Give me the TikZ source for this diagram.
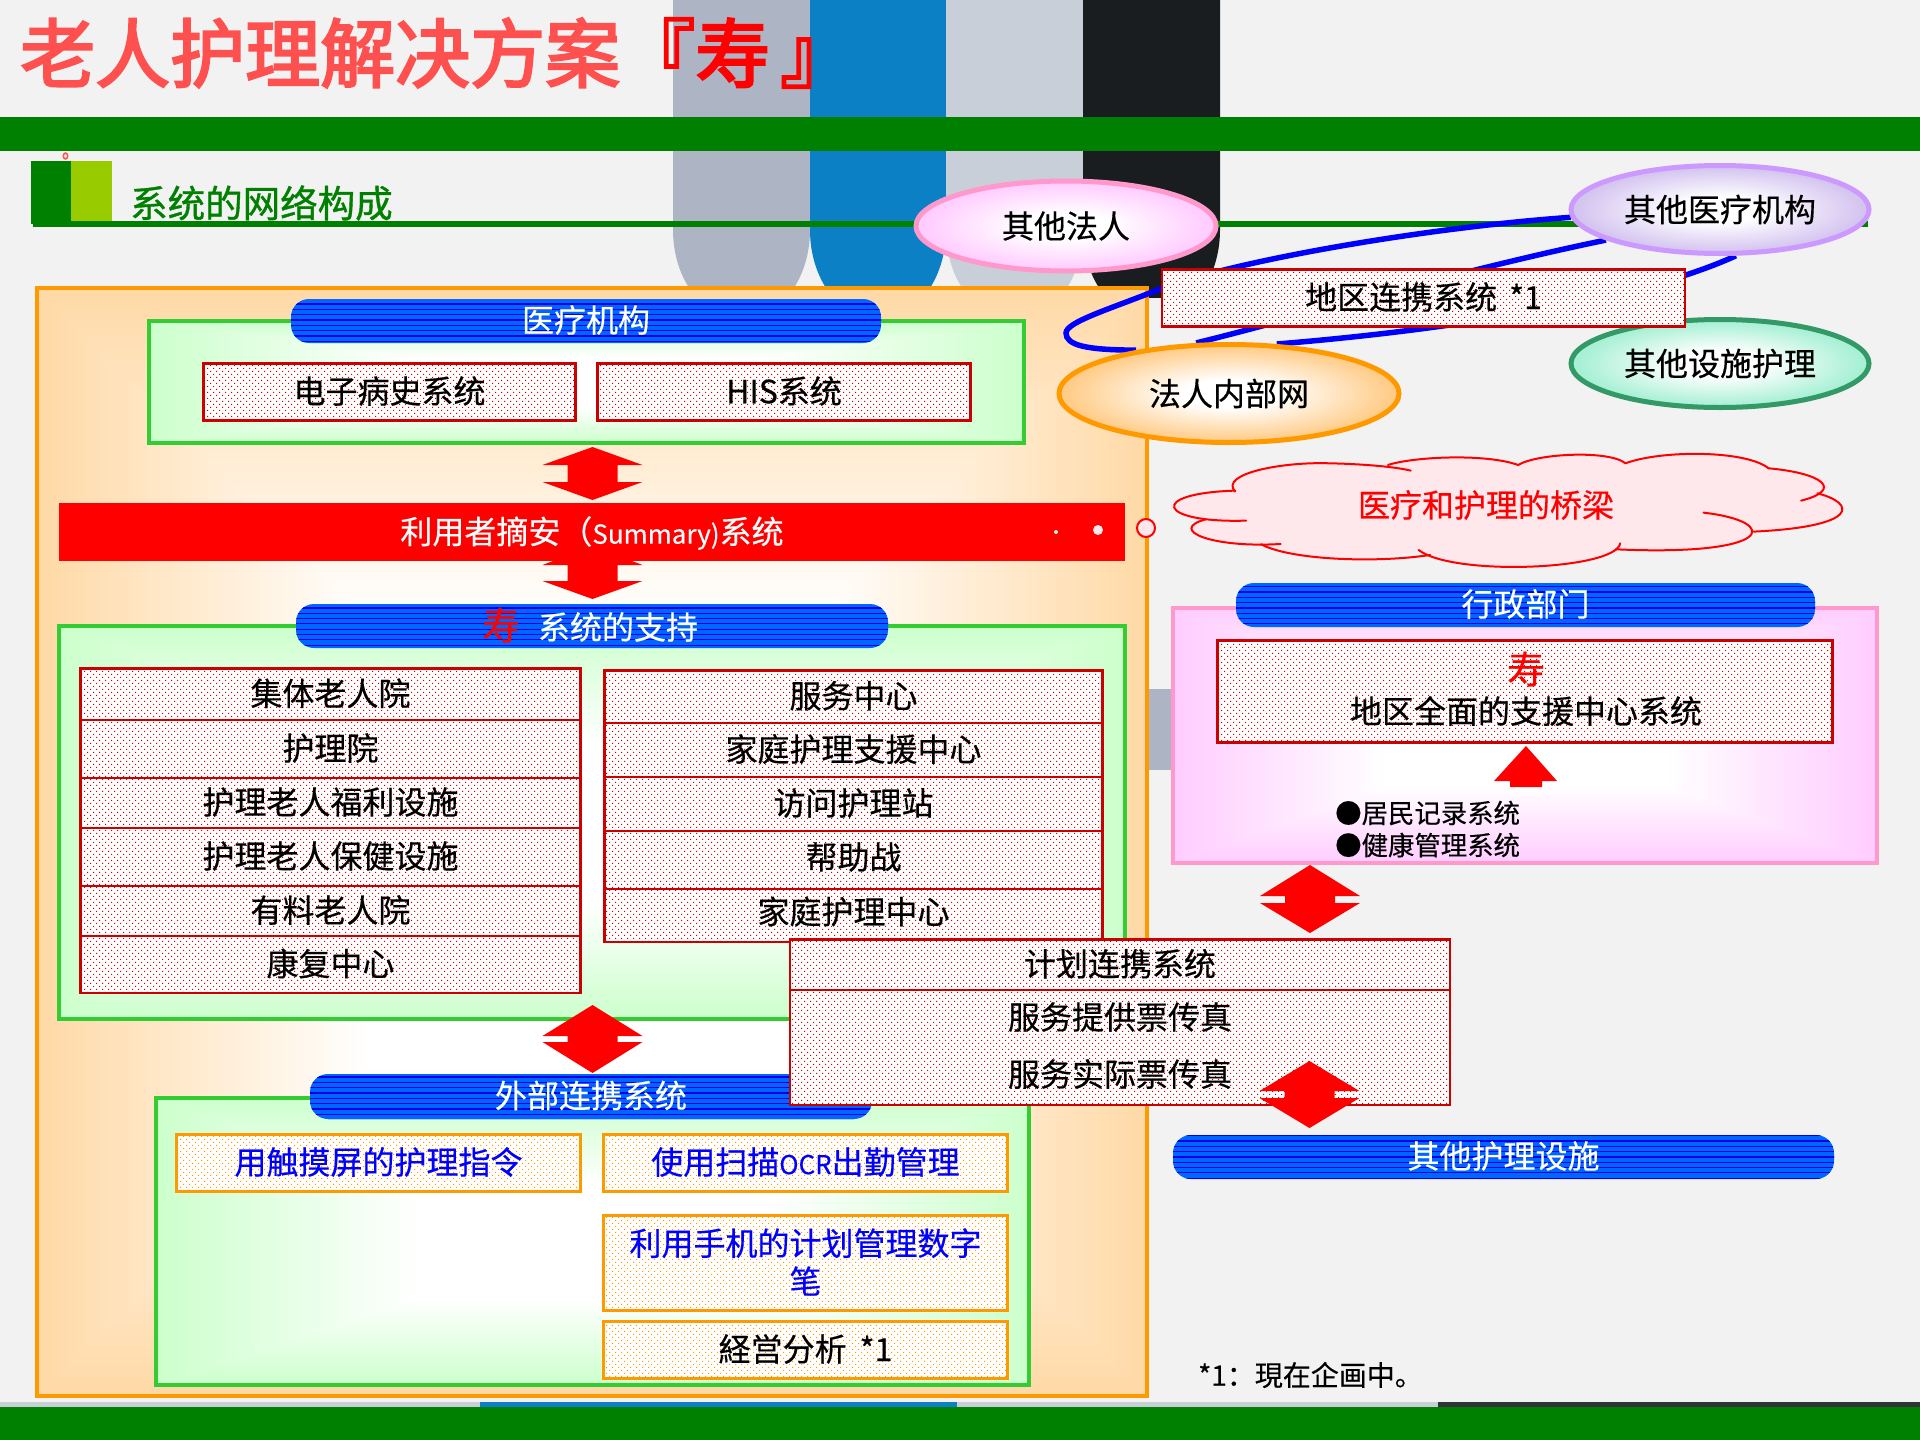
\documentclass[tikz,border=0pt]{standalone}
\usepackage{fontspec}
\setmainfont{Noto Sans CJK SC}[FakeBold=0.4]
\newfontfamily\titlefont{Noto Sans CJK SC}[FakeBold=3]
\newfontfamily\subfont{Noto Sans CJK SC}[FakeBold=1]
\usetikzlibrary{shapes.geometric,patterns}
\definecolor{bgc}{HTML}{F2F2F2}
\definecolor{pilA}{HTML}{ADB5C4}
\definecolor{pilB}{HTML}{0B80C4}
\definecolor{pilC}{HTML}{C9CFD9}
\definecolor{pilD}{HTML}{1A1D20}
\definecolor{grn}{HTML}{008000}
\definecolor{lime}{HTML}{99CC00}
\definecolor{salmon}{HTML}{FF5050}
\definecolor{orng}{HTML}{FF9900}
\definecolor{orngpale}{HTML}{FFD9A6}
\definecolor{grnline}{HTML}{33CC33}
\definecolor{grnpale}{HTML}{CCFFCC}
\definecolor{pnk}{HTML}{FF99CC}
\definecolor{pnkpale}{HTML}{FFCCFF}
\definecolor{pillc}{HTML}{0066FF}
\definecolor{pills}{HTML}{0000E8}
\definecolor{dred}{HTML}{CC0000}
\definecolor{purp}{HTML}{CC99FF}
\definecolor{seag}{HTML}{339966}
\definecolor{cloudc}{HTML}{FFE8EB}
\definecolor{edgepurp}{HTML}{D4C4F0}
\definecolor{edgegreen}{HTML}{A6F0D4}
\definecolor{edgeorng}{HTML}{FFCC88}
\pgfdeclarepatternformonly{stagdots}{\pgfqpoint{-.1pt}{-.1pt}}{\pgfqpoint{6.1pt}{6.1pt}}{\pgfqpoint{6pt}{6pt}}{%
  \pgfpathrectangle{\pgfqpoint{0pt}{0pt}}{\pgfqpoint{1.15pt}{1.15pt}}%
  \pgfpathrectangle{\pgfqpoint{3pt}{3pt}}{\pgfqpoint{1.15pt}{1.15pt}}%
  \pgfusepath{fill}}
\pgfdeclarepatternformonly{pillstripes}{\pgfqpoint{-.1pt}{0pt}}{\pgfqpoint{4.1pt}{5.33pt}}{\pgfqpoint{4pt}{5.33pt}}{%
  \pgfpathrectangle{\pgfqpoint{-.1pt}{0pt}}{\pgfqpoint{4.2pt}{1.2pt}}%
  \pgfusepath{fill}}
\pgfdeclareradialshading{ellpink}{\pgfpoint{0bp}{0bp}}{color(0bp)=(white);color(7bp)=(white);color(24bp)=(pnkpale);color(50bp)=(pnkpale)}
\pgfdeclareradialshading{ellpurp}{\pgfpoint{0bp}{0bp}}{color(0bp)=(white);color(7bp)=(white);color(24bp)=(edgepurp);color(50bp)=(edgepurp)}
\pgfdeclareradialshading{ellgreen}{\pgfpoint{0bp}{0bp}}{color(0bp)=(white);color(7bp)=(white);color(24bp)=(edgegreen);color(50bp)=(edgegreen)}
\pgfdeclareradialshading{ellorng}{\pgfpoint{0bp}{0bp}}{color(0bp)=(white);color(7bp)=(white);color(24bp)=(edgeorng);color(50bp)=(edgeorng)}
\pgfdeclarelayer{bottomlayer}
\pgfdeclarelayer{connlayer}
\pgfsetlayers{bottomlayer,connlayer,main}
\tikzset{
  txt/.style={inner sep=0pt,align=center,text=black,yshift=1pt,font=\fontsize{32}{40}\selectfont},
  wtxt/.style={txt,text=white},
  btxt/.style={txt,text=blue},
  rbox/.style={fill=white,draw=dred,line width=2.6pt,postaction={pattern=stagdots,pattern color=dred}},
  obox/.style={fill=white,draw=orng,line width=2.6pt,postaction={pattern=stagdots,pattern color=orng}},
  pillbox/.style={fill=pillc,rounded corners=18pt,postaction={pattern=pillstripes,pattern color=pills}},
  ell/.style={ellipse,inner sep=0pt,line width=5pt,align=center,font=\fontsize{32}{40}\selectfont,minimum width=#1},
  blueline/.style={draw=blue,line width=5.5pt},
  dblarrow/.style={fill=red},
  lobe/.style={draw=red,line width=2pt,line cap=round}
}
% x1 y1 x2 y2 edge : gradient from the edge to white at 60 percent of the way to the centre
\newcommand{\rectgrad}[5]{%
  \pgfmathsetmacro{\gcx}{(#1+#3)/2}\pgfmathsetmacro{\gcy}{(#2+#4)/2}%
  \pgfmathsetmacro{\gyt}{#2+0.6*(\gcy-#2)}\pgfmathsetmacro{\gyb}{#4-0.6*(#4-\gcy)}%
  \pgfmathsetmacro{\gxl}{#1+0.6*(\gcx-#1)}\pgfmathsetmacro{\gxr}{#3-0.6*(#3-\gcx)}%
  \fill[white] (#1,#2) rectangle (#3,#4);%
  \begin{scope}\clip (#1-2,#2) -- (#3+2,#2) -- (\gcx+2,\gcy) -- (\gcx-2,\gcy) -- cycle;
    \shade[top color=#5,bottom color=white] (#1-2,#2) rectangle (#3+2,\gyt);\end{scope}%
  \begin{scope}\clip (#1-2,#4) -- (#3+2,#4) -- (\gcx+2,\gcy) -- (\gcx-2,\gcy) -- cycle;
    \shade[bottom color=#5,top color=white] (#1-2,\gyb) rectangle (#3+2,#4);\end{scope}%
  \begin{scope}\clip (#1,#2) -- (#1,#4) -- (\gcx,\gcy) -- cycle;
    \shade[left color=#5,right color=white] (#1,#2) rectangle (\gxl,#4);\end{scope}%
  \begin{scope}\clip (#3,#2) -- (#3,#4) -- (\gcx,\gcy) -- cycle;
    \shade[right color=#5,left color=white] (\gxr,#2) rectangle (#3,#4);\end{scope}%
}
% cx halfwidth halfstem ytop ybase1 ybase2 ybot
\newcommand{\dbarrow}[7]{%
  \fill[dblarrow] (#1,#4) -- ({#1+#2},#5) -- ({#1+#3},#5) -- ({#1+#3},#6) -- ({#1+#2},#6) -- (#1,#7)
    -- ({#1-#2},#6) -- ({#1-#3},#6) -- ({#1-#3},#5) -- ({#1-#2},#5) -- cycle;}
\begin{document}
\begin{tikzpicture}[x=1pt,y=-1pt]
\useasboundingbox (0,0) rectangle (1920,1440);
\begin{pgfonlayer}{bottomlayer}
\fill[bgc] (0,0) rectangle (1920,1440);
% pillars
\begin{scope}
\clip (600,0) rectangle (1300,297);
\fill[pilA] (673,0) -- (810,0) -- (810,230) arc[x radius=68.5,y radius=90,start angle=0,end angle=180] -- cycle;
\fill[pilB] (810,0) -- (946,0) -- (946,230) arc[x radius=68,y radius=90,start angle=0,end angle=180] -- cycle;
\fill[pilC] (946,0) -- (1083,0) -- (1083,230) arc[x radius=68.5,y radius=90,start angle=0,end angle=180] -- cycle;
\fill[pilD] (1083,0) -- (1220,0) -- (1220,230) arc[x radius=68.5,y radius=90,start angle=0,end angle=180] -- cycle;
\end{scope}
\fill[pilA] (1149,689) rectangle (1171,770);
% bars
\fill[grn] (0,117) rectangle (1920,151);
\fill[pilC] (0,1402) rectangle (480,1407);
\fill[pilB] (480,1402) rectangle (957,1407);
\fill[pilC] (957,1402) rectangle (1438,1407);
\fill[pilD!90!white] (1438,1402) rectangle (1920,1407);
\fill[grn] (0,1407) rectangle (1920,1440);
% logo
\fill[grn] (31,161) rectangle (71,224);
\fill[lime] (71,161) rectangle (112,221);
\fill[grn] (33,221) rectangle (1868,227);
\draw[salmon,line width=1.5pt] (65.5,156) ellipse[x radius=2.2,y radius=3];
% main frame
\rectgrad{37}{288}{1147}{1396}{orngpale}
\draw[orng,line width=4pt] (37,288) rectangle (1147,1396);
% green panels
\rectgrad{149}{321}{1024}{443}{grnpale}
\draw[grnline,line width=4pt] (149,321) rectangle (1024,443);
\rectgrad{59}{626}{1125}{1019}{grnpale}
\draw[grnline,line width=4pt] (59,626) rectangle (1125,1019);
\rectgrad{156}{1098}{1029}{1385}{grnpale}
\draw[grnline,line width=4pt] (156,1098) rectangle (1029,1385);
% pink panel
\rectgrad{1173}{608}{1877}{863}{pnkpale}
\draw[pnk,line width=4pt] (1173,608) rectangle (1877,863);
\end{pgfonlayer}

% title
\node[anchor=west,inner sep=0pt,font=\fontsize{75}{80}\titlefont,text=salmon] (title) at (20,53) {老人护理解决方案\textcolor{red}{『寿\hspace{10pt}』}};
\node[anchor=west,inner sep=0pt,font=\fontsize{37.5}{40}\subfont,text=grn] (subtitle) at (130,203) {系统的网络构成};

% ellipses and network box
\node[ell=300pt,minimum height=90pt,draw=pnk,shade,shading=ellpink] (fr) at (1066,226) {其他法人};
\node[ell=298pt,minimum height=88pt,draw=purp,shade,shading=ellpurp] (fm) at (1720,209.5) {其他医疗机构};
\node[ell=298pt,minimum height=88pt,draw=seag,shade,shading=ellgreen] (fs) at (1720,363.5) {其他设施护理};
\node[ell=340pt,minimum height=98pt,draw=orng,shade,shading=ellorng] (fa) at (1229,393.5) {法人内部网};
\draw[rbox] (1162,269.5) rectangle (1685,326.5) node[midway,txt] (net) {地区连携系统\hspace{12pt}*1};
\begin{pgfonlayer}{connlayer}
\draw[blueline] (fa.155) .. controls (1085,350) and (1066,345) .. (1066,333) .. controls (1066,322) and (1110,309) .. (1160,289) .. controls (1230,262) and (1420,228) .. (fm.183);
\draw[blueline] (fa.123) .. controls (1290,320) and (1460,270) .. (fm.195);
\draw[blueline] (fa.46) .. controls (1450,330) and (1640,300) .. (fm.-71);
\end{pgfonlayer}

% medical
\path[pillbox] (291,299) rectangle (881,343) node[midway,wtxt] (med) {医疗机构};
\draw[rbox] (203.5,363.5) rectangle (575.5,420.5) node[midway,txt] (emr) {电子病史系统};
\draw[rbox] (597.5,363.5) rectangle (970.5,420.5) node[midway,txt] (his) {HIS系统};
\dbarrow{592.5}{50}{25}{447}{465}{482}{500}

% support arrow and summary bar
\dbarrow{592.5}{50}{25}{546}{565}{581}{599}
\fill[red] (59,503) rectangle (1125,561);
\node[wtxt] (summ) at (592,534) {利用者摘安（{\fontsize{26}{40}\selectfont Summary)}系统};
\fill[cloudc] (1056,532) circle[radius=2];
\fill[cloudc] (1098,530) circle[radius=5];
\draw[red,line width=2pt,fill=cloudc] (1146,528) circle[radius=9];

% cloud
\begin{scope}[shift={(900,140)},x=0.6506pt,y=-0.3333pt]
\fill[cloudc] (515,1055) .. controls (490,1000) and (590,965) .. (660,970) .. controls (690,970) and (730,975) .. (750,975)
 .. controls (790,950) and (900,940) .. (950,975) .. controls (980,940) and (1090,930) .. (1115,970)
 .. controls (1170,930) and (1300,930) .. (1335,985) .. controls (1420,1000) and (1450,1030) .. (1410,1060)
 .. controls (1465,1090) and (1470,1160) .. (1312,1175) .. controls (1320,1210) and (1200,1250) .. (1100,1228)
 .. controls (1040,1300) and (850,1290) .. (797,1230) .. controls (730,1270) and (600,1260) .. (555,1213)
 .. controls (480,1225) and (410,1170) .. (470,1138) .. controls (395,1120) and (410,1060) .. (515,1052) -- cycle;
\draw[lobe] (515,1055) .. controls (490,1000) and (590,965) .. (660,970) .. controls (710,972) and (760,980) .. (785,992);
\draw[lobe] (750,975) .. controls (790,950) and (900,940) .. (950,975);
\draw[lobe] (950,975) .. controls (980,940) and (1090,930) .. (1115,970);
\draw[lobe] (1115,970) .. controls (1170,930) and (1300,930) .. (1335,985);
\draw[lobe] (1335,985) .. controls (1420,1000) and (1450,1050) .. (1385,1082);
\draw[lobe] (1410,1060) .. controls (1470,1090) and (1475,1160) .. (1312,1175);
\draw[lobe] (1235,1118) .. controls (1355,1145) and (1345,1250) .. (1100,1228);
\draw[lobe] (1107,1210) .. controls (1100,1290) and (850,1310) .. (797,1230);
\draw[lobe] (815,1245) .. controls (730,1270) and (600,1260) .. (555,1213);
\draw[lobe] (585,1212) .. controls (480,1225) and (410,1170) .. (470,1138);
\draw[lobe] (532,1142) .. controls (395,1150) and (380,1060) .. (515,1052);
\end{scope}
\node[txt,text=red] (bridge) at (1486,506) {医疗和护理的桥梁};

% support panel
\path[pillbox] (296,604) rectangle (888,648);
\node[inner sep=0pt,text=red,font=\fontsize{38}{40}\selectfont] (kotobuki) at (501,625) {寿};
\node[wtxt] (suptxt) at (618,628) {系统的支持};
\draw[rbox] (80.5,668.5) rectangle (580.5,720) node[midway,txt] (la) {集体老人院};
\draw[rbox] (80.5,720) rectangle (580.5,778) node[midway,txt] (lb) {护理院};
\draw[rbox] (80.5,778) rectangle (580.5,828) node[midway,txt] (lc) {护理老人福利设施};
\draw[rbox] (80.5,828) rectangle (580.5,886) node[midway,txt] (ld) {护理老人保健设施};
\draw[rbox] (80.5,886) rectangle (580.5,936) node[midway,txt] (le) {有料老人院};
\draw[rbox] (80.5,936) rectangle (580.5,993) node[midway,txt] (lf) {康复中心};
\draw[rbox] (604.5,670.5) rectangle (1102.5,723) node[midway,txt] (ra) {服务中心};
\draw[rbox] (604.5,723) rectangle (1102.5,777) node[midway,txt] (rb) {家庭护理支援中心};
\draw[rbox] (604.5,777) rectangle (1102.5,831) node[midway,txt] (rc) {访问护理站};
\draw[rbox] (604.5,831) rectangle (1102.5,889) node[midway,txt,yshift=2pt] (rd) {帮助战};
\draw[rbox] (604.5,889) rectangle (1102.5,942) node[midway,txt,yshift=3pt] (re) {家庭护理中心};
\dbarrow{592.5}{50}{25}{1005}{1036}{1042}{1073}

% external panel
\path[pillbox] (310,1074) rectangle (872,1119) node[midway,wtxt] (ext) {外部连携系统};
\draw[obox] (176.5,1134.5) rectangle (580.5,1191.5) node[midway,btxt] (oa) {用触摸屏的护理指令};
\draw[obox] (603.5,1134.5) rectangle (1007.5,1191.5) node[midway,btxt] (ob) {使用扫描{\fontsize{26}{40}\selectfont OCR}出勤管理};
\draw[obox] (603.5,1215.5) rectangle (1007.5,1310.5) node[midway,btxt] (oc) {利用手机的计划管理数字\\[-2pt]笔};
\draw[obox] (603.5,1321.5) rectangle (1007.5,1378.5) node[midway,txt] (od) {経営分析\hspace{13pt}*1};

% gov panel
\path[pillbox] (1236,583) rectangle (1815,627) node[midway,wtxt] (gov) {行政部门};
\draw[rbox] (1217.5,640.5) rectangle (1832.5,742.5);
\node[inner sep=0pt,text=red,font=\fontsize{38}{40}\selectfont] (kot2) at (1526,669) {寿};
\node[txt] (gov2) at (1526,712) {地区全面的支援中心系统};
\fill[red] (1526,746) -- (1557,781) -- (1542,781) -- (1542,787) -- (1510,787) -- (1510,781) -- (1494,781) -- cycle;
\node[anchor=west,inner sep=0pt,font=\fontsize{26.4}{30}\selectfont] (bu1) at (1335,813) {●居民记录系统};
\node[anchor=west,inner sep=0pt,font=\fontsize{26.4}{30}\selectfont] (bu2) at (1335,845) {●健康管理系统};
\dbarrow{1310}{50}{25}{865}{896}{903}{933}

% plan box
\draw[rbox] (790,939.5) rectangle (1450,990) node[midway,txt] (pa) {计划连携系统};
\draw[rbox] (790,990) rectangle (1450,1105);
\node[txt] (pb) at (1120,1018) {服务提供票传真};
\node[txt] (pc) at (1120,1075) {服务实际票传真};
\dbarrow{1309.5}{50}{25}{1061}{1091}{1098}{1128}

% other care pill & note
\path[pillbox] (1173,1135) rectangle (1834,1179) node[midway,wtxt] (oth) {其他护理设施};
\node[anchor=west,inner sep=0pt,font=\fontsize{28}{30}\selectfont] (note) at (1198,1375) {*1：現在企画中。};
\end{tikzpicture}
\end{document}
